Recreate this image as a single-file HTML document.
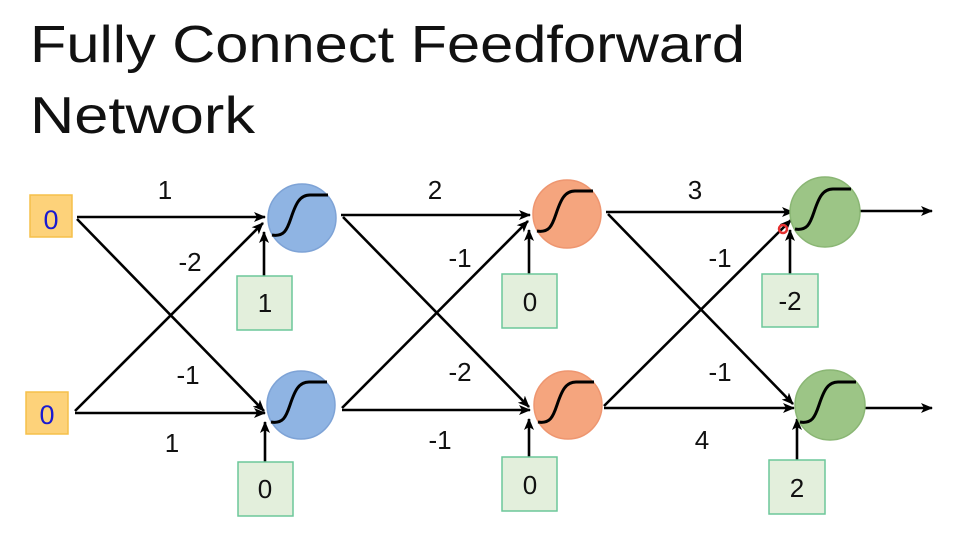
<!DOCTYPE html>
<html><head><meta charset="utf-8"><style>
html,body{margin:0;padding:0;background:#fff;}
svg{display:block;}
text{font-family:"Liberation Sans",sans-serif;}
</style></head><body>
<svg width="977" height="545" viewBox="0 0 977 545" xmlns="http://www.w3.org/2000/svg">
<defs>
<marker id="a" markerWidth="12" markerHeight="10" refX="11" refY="5" orient="auto" markerUnits="userSpaceOnUse">
<path d="M0,0 L12,5 L0,10 L3,5 Z" fill="#000"/></marker>
<g id="sig"><path d="M-30,17 C-18,19 -15,12 -11,0 C-6,-15 -2,-23 8,-23 L26,-23" fill="none" stroke="#000" stroke-width="3"/></g>
</defs>
<text x="30" y="62" font-size="52" textLength="715" lengthAdjust="spacingAndGlyphs" fill="#111">Fully Connect Feedforward</text>
<text x="30" y="133" font-size="52" textLength="225" lengthAdjust="spacingAndGlyphs" fill="#111">Network</text>

<g stroke="#000" stroke-width="2.6" fill="none" marker-end="url(#a)">
<line x1="77" y1="217" x2="265" y2="217"/>
<line x1="75" y1="413" x2="265" y2="413"/>
<line x1="77" y1="219" x2="264" y2="411"/>
<line x1="75" y1="411" x2="263" y2="223"/>
<line x1="264" y1="276" x2="264" y2="232"/>
<line x1="265" y1="462" x2="265" y2="422"/>
<line x1="341" y1="215" x2="530" y2="215"/>
<line x1="342" y1="410" x2="530" y2="410"/>
<line x1="343" y1="217" x2="529" y2="407"/>
<line x1="342" y1="408" x2="528" y2="221"/>
<line x1="529" y1="274" x2="529" y2="230"/>
<line x1="529" y1="457" x2="529" y2="419"/>
<line x1="606" y1="212" x2="793" y2="212"/>
<line x1="604" y1="408" x2="794" y2="408"/>
<line x1="608" y1="214" x2="793" y2="404"/>
<line x1="604" y1="406" x2="791" y2="220"/>
<line x1="790" y1="274" x2="790" y2="230"/>
<line x1="797" y1="460" x2="797" y2="419"/>
<line x1="860" y1="211" x2="932" y2="211"/>
<line x1="865" y1="408" x2="932" y2="408"/>
</g>

<rect x="30" y="195" width="42" height="42" fill="#fdd27a" stroke="#f5c04a" stroke-width="1.5"/>
<text x="51" y="229" font-size="27" text-anchor="middle" fill="#1a1ad0">0</text>
<rect x="26" y="392" width="42" height="42" fill="#fdd27a" stroke="#f5c04a" stroke-width="1.5"/>
<text x="47" y="424" font-size="27" text-anchor="middle" fill="#1a1ad0">0</text>

<g stroke-width="1.5">
<circle cx="302" cy="218" r="34" fill="#8fb4e3" stroke="#7ea3d6"/>
<circle cx="301" cy="405" r="34" fill="#8fb4e3" stroke="#7ea3d6"/>
<circle cx="567" cy="214" r="34" fill="#f5a57e" stroke="#ee9670"/>
<circle cx="568" cy="405" r="34" fill="#f5a57e" stroke="#ee9670"/>
<circle cx="825" cy="212" r="35" fill="#9cc586" stroke="#8ab674"/>
<circle cx="830" cy="405" r="35" fill="#9cc586" stroke="#8ab674"/>
</g>
<use href="#sig" x="302" y="218"/>
<use href="#sig" x="301" y="405"/>
<use href="#sig" x="567" y="214"/>
<use href="#sig" x="568" y="405"/>
<use href="#sig" x="825" y="212"/>
<use href="#sig" x="830" y="405"/>

<g fill="#e3efdc" stroke="#6cc79a" stroke-width="1.5">
<rect x="237" y="276" width="55" height="54"/>
<rect x="238" y="462" width="55" height="54"/>
<rect x="502" y="274" width="55" height="54"/>
<rect x="502" y="457" width="55" height="54"/>
<rect x="762" y="274" width="56" height="53"/>
<rect x="769" y="460" width="56" height="54"/>
</g>
<g font-size="26" text-anchor="middle" fill="#111">
<text x="265" y="312">1</text>
<text x="265" y="498">0</text>
<text x="530" y="311">0</text>
<text x="530" y="494">0</text>
<text x="790" y="310">-2</text>
<text x="797" y="497">2</text>
<text x="165" y="199">1</text>
<text x="190" y="271">-2</text>
<text x="188" y="384">-1</text>
<text x="172" y="452">1</text>
<text x="435" y="199">2</text>
<text x="460" y="267">-1</text>
<text x="460" y="381">-2</text>
<text x="440" y="449">-1</text>
<text x="695" y="199">3</text>
<text x="720" y="267">-1</text>
<text x="720" y="381">-1</text>
<text x="702" y="449">4</text>
</g>
<circle cx="783" cy="229" r="4" fill="none" stroke="#e53030" stroke-width="2.5"/>
</svg>
</body></html>
